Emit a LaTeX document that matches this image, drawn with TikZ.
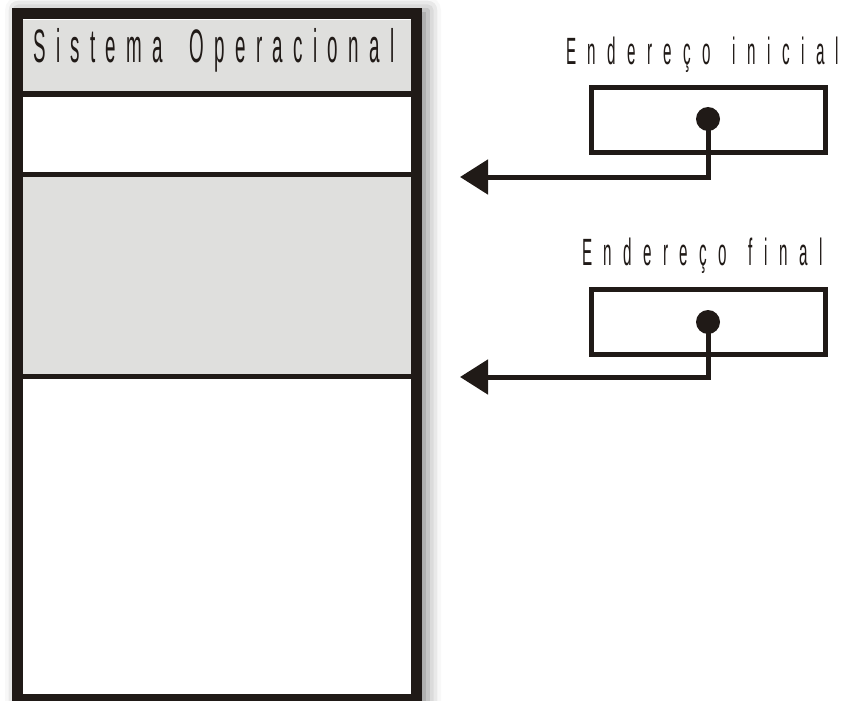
\documentclass[tikz,border=0pt]{standalone}
\usepackage{fontspec}
\usepackage{tikz}
\usetikzlibrary{arrows.meta,shadows.blur}
\newfontfamily\memfont[FakeStretch=0.4,LetterSpace=22,WordSpace=1.7]{Liberation Sans}
\newfontfamily\regfont[FakeStretch=0.4,LetterSpace=30,WordSpace=1.4]{Liberation Sans}
\definecolor{framecol}{HTML}{201A17}
\definecolor{slotgray}{HTML}{DFDFDD}

\begin{document}
\begin{tikzpicture}[x=1pt,y=-1pt,
	register/.style={draw=framecol,line width=5pt,minimum width=234pt,minimum height=65pt,inner sep=0pt},
	pin/.style={circle,fill=framecol,minimum size=24pt,inner sep=0pt},
	addr/.style={font=\regfont\fontsize{38}{38}\selectfont,text=framecol,inner sep=0pt,anchor=base west},
	link/.style={draw=framecol,line width=5pt,-{Triangle[length=28pt,width=34pt]}}]

	\useasboundingbox (0,0) rectangle (847,701);

	% memoria
	\fill[white,blur shadow={shadow xshift=6pt,shadow yshift=-2pt,shadow blur radius=13pt,shadow opacity=45}] (12,8) rectangle (422,705);
	\fill[slotgray] (23,20) rectangle (411,94);
	\fill[slotgray] (23,174.5) rectangle (411,376.5);
	\draw[framecol, line width=6pt] (23,94) -- (411,94);
	\draw[framecol, line width=5.5pt] (23,174.5) -- (411,174.5);
	\draw[framecol, line width=5pt] (23,376.5) -- (411,376.5);
	\draw[framecol, line width=11pt] (17.5,13.5) rectangle (416.5,699.5);

	\node (SO) [anchor=base west,inner sep=0pt,text=framecol,font=\memfont\fontsize{47}{47}\selectfont] at (33,63) {Sistema Operacional};

	% registradores
	\node (ini) [addr] at (566,65) {Endereço inicial};
	\node (regA) [register] at (708.5,120) {};
	\node (pinA) [pin] at (708,119) {};
	\coordinate (tipA) at (460,177);

	\node (fim) [addr] at (582,265) {Endereço final};
	\node (regB) [register] at (708.5,321.5) {};
	\node (pinB) [pin] at (708,322) {};
	\coordinate (tipB) at (460,377);

	\draw [link] (pinA.center) |- (tipA);
	\draw [link] (pinB.center) |- (tipB);

\end{tikzpicture}
\end{document}
